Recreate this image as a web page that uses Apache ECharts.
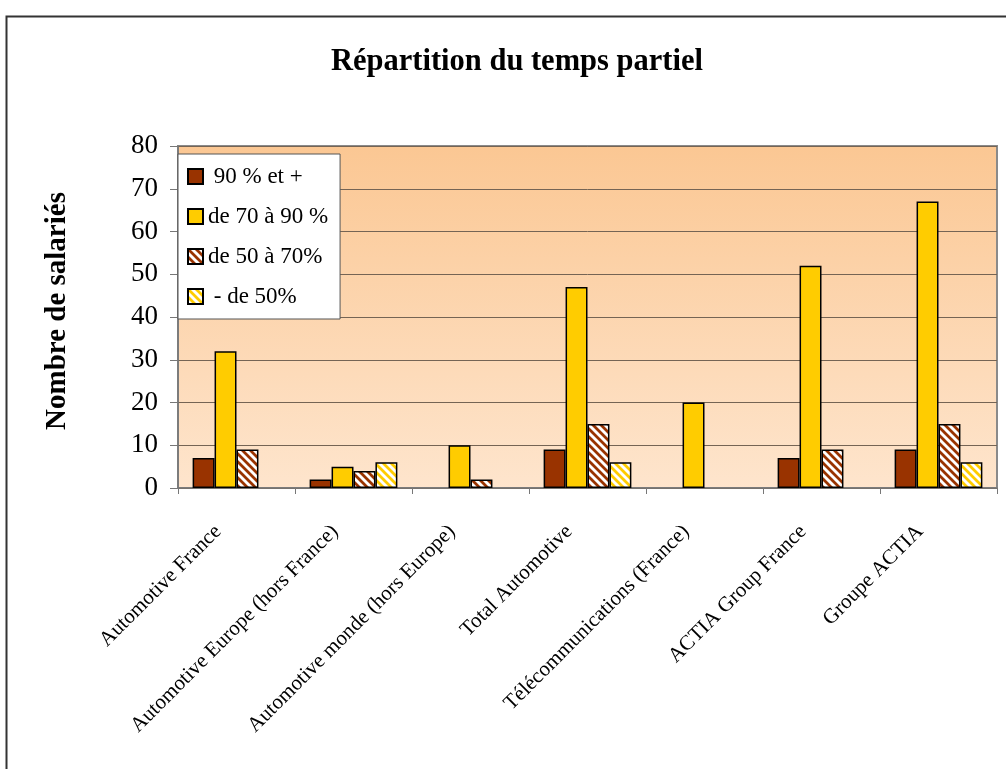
<!DOCTYPE html>
<html>
<head>
<meta charset="utf-8">
<style>
  html, body { margin: 0; padding: 0; background: #fff; }
  #main { width: 1006px; height: 769px; }
</style>
</head>
<body>
<div id="main"></div>
<script src="https://cdn.jsdelivr.net/npm/echarts@6/dist/echarts.min.js"></script>
<script>
    var categories = ['Automotive France', 'Automotive Europe (hors France)', 'Automotive monde (hors Europe)',
        'Total Automotive', 'Télécommunications (France)', 'ACTIA Group France', 'Groupe ACTIA'];
    var seriesNames = [' 90 % et +', 'de 70 à 90 %', 'de 50 à 70%', ' - de 50%'];
    var plus90 = [7, 2, 0, 9, 0, 7, 9];
    var from70to90 = [32, 5, 10, 47, 20, 52, 67];
    var from50to70 = [9, 4, 2, 15, 0, 9, 15];
    var under50 = [0, 6, 0, 6, 0, 0, 6];

    var font = '"Liberation Serif", "Times New Roman", serif';

    // hachures diagonales (comme Excel)
    function stripes(color){
        var c = document.createElement('canvas');
        c.width = 8; c.height = 8;
        var g = c.getContext('2d');
        g.fillStyle = '#fff';
        g.fillRect(0, 0, 8, 8);
        g.strokeStyle = color;
        g.lineWidth = 2.8;
        g.beginPath();
        g.moveTo(-2, -2); g.lineTo(10, 10);
        g.moveTo(-2, 6); g.lineTo(2, 10);
        g.moveTo(6, -2); g.lineTo(10, 2);
        g.stroke();
        return { image: c, repeat: 'repeat' };
    }

    function bar(name, data, color){
        return {
            name: name,
            type: 'bar',
            // pas de barre quand la valeur est nulle
            data: data.map(function(v){ return v === 0 ? '-' : v; }),
            barGap: '0%',
            barCategoryGap: '25%',
            itemStyle: { color: color, borderColor: '#000', borderWidth: 1.5 }
        };
    }

    var myChart = echarts.init(document.getElementById('main'));
    var option = {
        backgroundColor: '#fff',
        animation: false,
        textStyle: { fontFamily: font },
        title: {
            text: 'Répartition du temps partiel',
            left: 326,
            top: 42,
            textStyle: { fontFamily: font, fontSize: 30.5, fontWeight: 'bold', color: '#000' }
        },
        graphic: [{
            type: 'rect',
            left: 4, top: 14,
            shape: { width: 1010, height: 770 },
            style: { fill: 'none', stroke: '#333', lineWidth: 2 },
            silent: true
        }],
        legend: {
            orient: 'vertical',
            left: 178,
            top: 154,
            padding: [11, 12, 11, 9],
            itemGap: 17,
            itemWidth: 15,
            itemHeight: 15,
            icon: 'rect',
            backgroundColor: '#fff',
            borderColor: '#555',
            borderWidth: 1,
            textStyle: { fontFamily: font, fontSize: 23, color: '#000' },
            data: seriesNames
        },
        grid: {
            left: 178,
            right: 9,
            top: 146,
            bottom: 281,
            show: true,
            borderColor: '#8a8a8a',
            borderWidth: 2,
            backgroundColor: new echarts.graphic.LinearGradient(0, 0, 0, 1, [
                { offset: 0, color: '#fbc793' },
                { offset: 1, color: '#fee5cd' }
            ])
        },
        xAxis: {
            type: 'category',
            data: categories,
            axisLine: { lineStyle: { color: '#777', width: 1.5 } },
            axisTick: { show: true, length: 6, lineStyle: { color: '#777' } },
            axisLabel: {
                interval: 0,
                rotate: 45,
                margin: 22,
                padding: [0, 26, 0, 0],
                fontFamily: font,
                fontSize: 21,
                color: '#000'
            }
        },
        yAxis: {
            type: 'value',
            min: 0,
            max: 80,
            interval: 10,
            name: 'Nombre de salariés',
            nameLocation: 'middle',
            nameGap: 106,
            nameTextStyle: { fontFamily: font, fontSize: 29, fontWeight: 'bold', color: '#000', padding: [0, 0, 0, 12] },
            axisLine: { show: true, lineStyle: { color: '#777', width: 1.5 } },
            axisTick: { show: true, inside: false, length: 8, lineStyle: { color: '#777' } },
            axisLabel: { fontFamily: font, fontSize: 27, color: '#000', margin: 20 },
            splitLine: { lineStyle: { color: '#756454', width: 1 } }
        },
        series: [
            bar(seriesNames[0], plus90, '#993300'),
            bar(seriesNames[1], from70to90, '#ffcc00'),
            bar(seriesNames[2], from50to70, stripes('#993300')),
            bar(seriesNames[3], under50, stripes('#ffcc00'))
        ]
    };
    myChart.setOption(option);
</script>
</body>
</html>
